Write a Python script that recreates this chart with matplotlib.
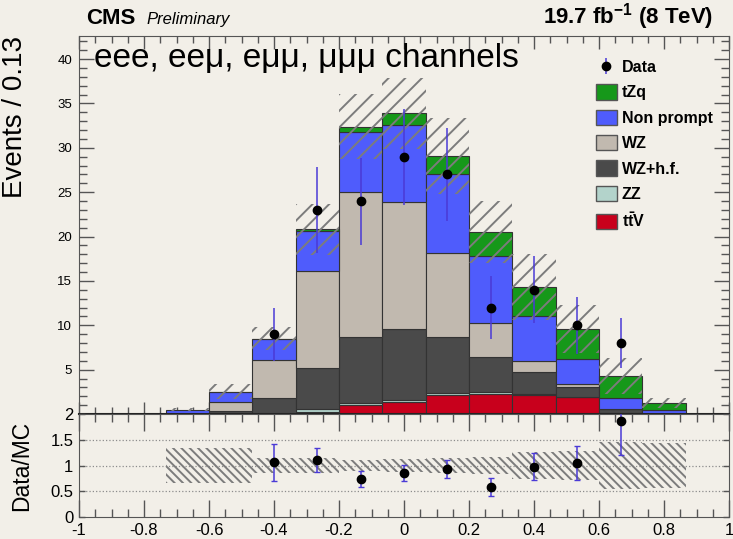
import numpy as np
import matplotlib
matplotlib.use('Agg')
import matplotlib.pyplot as plt
from matplotlib.patches import Patch
from matplotlib.ticker import MultipleLocator

plt.rcParams['font.family'] = ['Liberation Sans', 'DejaVu Sans']
plt.rcParams['mathtext.fontset'] = 'custom'
plt.rcParams['mathtext.rm'] = 'Liberation Sans'
plt.rcParams['mathtext.bf'] = 'Liberation Sans:bold'
plt.rcParams['mathtext.it'] = 'Liberation Sans:italic'
plt.rcParams['hatch.linewidth'] = 1.4

# 15 bins between -1 and 1 (width 0.133)
bin_edges = np.linspace(-1, 1, 16)

# stacked backgrounds, bottom to top
ttv     = [0, 0, 0,    0,    0,    0.25, 1.00, 1.30, 2.14, 2.25, 2.14, 1.88, 0.15, 0,    0]
zz      = [0, 0, 0,    0,    0,    0.30, 0.27, 0.28, 0.19, 0.19, 0.08, 0.07, 0,    0,    0]
wz_hf   = [0, 0, 0,    0.30, 1.80, 4.65, 7.43, 8.00, 6.37, 4.02, 2.55, 1.13, 0.38, 0.05, 0]
wz      = [0, 0, 0,    1.05, 4.30, 10.95, 16.27, 14.32, 9.50, 3.84, 1.23, 0.26, 0.03, 0,  0]
nonprompt = [0, 0, 0.5, 1.15, 2.35, 4.50, 6.83, 8.70, 8.90, 7.50, 5.10, 2.82, 1.24, 0.40, 0]
tzq     = [0, 0, 0,    0.02, 0.05, 0.15, 0.60, 1.30, 2.00, 2.70, 3.25, 3.38, 2.51, 0.80, 0]
mc_unc  = [0, 0, 0.17, 0.85, 1.3, 2.9, 3.7, 4.0, 4.3, 3.5, 3.7, 2.7, 2.0, 0.55, 0]

samples = ['tZq', 'Non prompt', 'WZ', 'WZ+h.f.', 'ZZ', r'$\mathbf{t\bar{t}V}$']
colors = ['#16981a', '#4f5cfc', '#c1b9af', '#4a4a4a', '#b3d3cb', '#c8001c']

# observed data (bins 4..12)
data_x = [-0.4, -0.267, -0.133, 0.0, 0.133, 0.267, 0.4, 0.533, 0.667]
data_y = [9, 23, 24, 29, 27, 12, 14, 10, 8]
data_err = [3.0, 4.8, 4.9, 5.4, 5.2, 3.5, 3.8, 3.2, 2.8]
data_bins = [4, 5, 6, 7, 8, 9, 10, 11, 12]

xtick_vals = [-1, -0.8, -0.6, -0.4, -0.2, 0, 0.2, 0.4, 0.6, 0.8, 1]
xtick_labels = ['-1', '-0.8', '-0.6', '-0.4', '-0.2', '0', '0.2', '0.4', '0.6', '0.8', '1']
ytick_main = [5, 10, 15, 20, 25, 30, 35, 40]
ytick_ratio = [0, 0.5, 1, 1.5, 2]
ytick_ratio_labels = ['0', '0.5', '1', '1.5', '2']

bg = '#f2efe8'
axcol = '#555555'
errcol = '#4a3ad6'
hatchcol = '#7c7c7c'

W, H = 733, 539
fig = plt.figure(figsize=(W / 100, H / 100), dpi=100, facecolor=bg)
ax = fig.add_axes([79 / W, 1 - 414 / H, 650 / W, 378 / H], facecolor=bg)
rax = fig.add_axes([79 / W, 1 - 517 / H, 650 / W, 103 / H], facecolor=bg, sharex=ax)

left = bin_edges[:-1]
width = np.diff(bin_edges)
stack = [ttv, zz, wz_hf, wz, nonprompt, tzq]
stack_colors = colors[::-1]
bottom = np.zeros(len(left))
for vals, c in zip(stack, stack_colors):
    vals = np.array(vals)
    mask = vals > 0
    ax.bar(left[mask], vals[mask], width=width[mask], bottom=bottom[mask], align='edge',
           color=c, edgecolor='#333333', linewidth=0.8, zorder=2)
    bottom = bottom + vals
total = bottom

unc = np.array(mc_unc)
m = unc > 0
ax.bar(left[m], 2 * unc[m], width=width[m], bottom=total[m] - unc[m], align='edge',
       fill=False, edgecolor=hatchcol, hatch='//', linewidth=0, zorder=3)

ax.errorbar(data_x, data_y, yerr=data_err, fmt='o', color='black', ms=6,
            ecolor=errcol, elinewidth=1.1, capsize=0, zorder=5, label='Data')

ax.set_xlim(-1, 1)
ax.set_ylim(0, 42.6)
ax.set_yticks(ytick_main)
ax.yaxis.set_minor_locator(MultipleLocator(1))
ax.xaxis.set_minor_locator(MultipleLocator(0.05))
ax.tick_params(axis='x', which='both', labelbottom=False)
ax.tick_params(which='both', direction='in', top=True, right=True, color=axcol, width=1)
ax.tick_params(axis='x', which='major', length=9)
ax.tick_params(axis='x', which='minor', length=5)
ax.tick_params(axis='y', which='major', length=11, labelsize=9.5, pad=5)
ax.tick_params(axis='y', which='minor', length=5.5)
for s in ax.spines.values():
    s.set_color(axcol)
ax.spines['bottom'].set_color('#222222')
ax.spines['bottom'].set_linewidth(1.5)
ax.set_ylabel('Events / 0.13', fontsize=20, loc='top', labelpad=12)

# legend
handles, labels = ax.get_legend_handles_labels()
for name, c in zip(samples, colors):
    handles.append(Patch(facecolor=c, edgecolor='#555555', linewidth=1))
    labels.append(name)
leg = fig.legend(handles, labels, loc='upper left', bbox_to_anchor=(596 / W, 1 - 59 / H),
                 frameon=False, prop={'weight': 'bold', 'size': 11.5}, borderpad=0,
                 borderaxespad=0, handlelength=1.3, handleheight=1.1, handletextpad=0.3,
                 labelspacing=0.58)

# ratio panel
tot_d = total[data_bins]
ratio = np.array(data_y) / tot_d
ratio_err = np.array(data_err) / tot_d
safe = np.where(total > 0, total, 1)
rel = np.where(total > 0, unc / safe, 0)
rm = rel > 0
rax.bar(left[rm], 2 * rel[rm], width=width[rm], bottom=1 - rel[rm], align='edge',
        fill=False, edgecolor=hatchcol, hatch='\\\\\\\\', linewidth=0, zorder=2)
for yv in [0.5, 1, 1.5]:
    rax.axhline(yv, color='#8c8c8c', linestyle=':', linewidth=0.9, zorder=1)
rax.errorbar(data_x, ratio, yerr=ratio_err, fmt='o', color='black', ms=6,
             ecolor=errcol, elinewidth=1.1, capsize=2.5, capthick=1, zorder=5)
rax.set_ylim(0, 2)
rax.set_yticks(ytick_ratio, labels=ytick_ratio_labels)
rax.set_xticks(xtick_vals, labels=xtick_labels)
rax.xaxis.set_minor_locator(MultipleLocator(0.05))
rax.tick_params(which='both', direction='in', top=True, right=True, color=axcol, width=1,
                labelsize=12)
rax.tick_params(axis='x', which='major', length=12, pad=4)
rax.tick_params(axis='x', which='minor', length=6)
rax.tick_params(axis='y', which='major', length=4, pad=4)
for s in rax.spines.values():
    s.set_color(axcol)
rax.set_ylabel('Data/MC', fontsize=16.5, labelpad=10)
rax.yaxis.set_label_coords(-0.071, 0.5)
ax.yaxis.set_label_coords(-0.078, 1.0)

# header texts
fig.text(86 / W, 1 - 24 / H, 'CMS', fontsize=16, fontweight='bold', va='baseline')
fig.text(146 / W, 1 - 24 / H, 'Preliminary', fontsize=12, style='italic', va='baseline')
fig.text(713 / W, 1 - 24 / H, r'$\mathbf{19.7\ fb^{-1}\ (8\ TeV)}$', fontsize=16,
         ha='right', va='baseline')
fig.text(94 / W, 1 - 67 / H, 'eee, ee\u03bc, e\u03bc\u03bc, \u03bc\u03bc\u03bc channels',
         fontsize=24, va='baseline')

fig.savefig('out.png', dpi=100, facecolor=bg)
